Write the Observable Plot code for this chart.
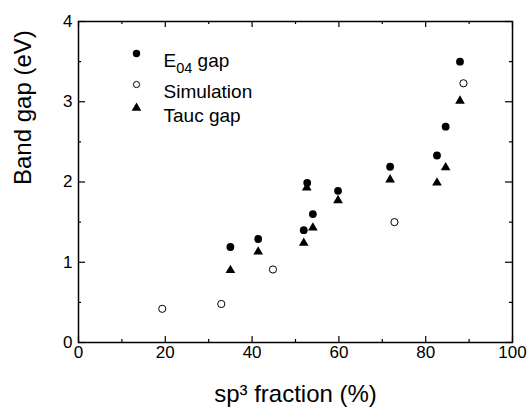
<!DOCTYPE html>
<html><head><meta charset="utf-8">
<script src="https://cdn.jsdelivr.net/npm/d3@7"></script>
<script src="https://cdn.jsdelivr.net/npm/@observablehq/plot@0.6"></script>
<style>
body{margin:0;background:#fff}
svg{font-family:"Liberation Sans",Arial,Helvetica,sans-serif}
</style>
</head><body><div id="chart"></div>
<script>
// Data
const e04X  = [35.0, 41.4, 51.9, 52.7, 54.0, 59.8, 71.8, 82.6, 84.6, 87.9];
const e04Y  = [1.19, 1.29, 1.40, 1.99, 1.60, 1.89, 2.19, 2.33, 2.69, 3.50];
const simX  = [19.3, 32.9, 44.8, 72.8, 88.7];
const simY  = [0.42, 0.48, 0.91, 1.50, 3.23];
const taucX = [35.0, 41.4, 51.9, 52.6, 54.0, 59.8, 71.8, 82.6, 84.6, 87.9];
const taucY = [0.90, 1.13, 1.24, 1.93, 1.43, 1.77, 2.03, 1.99, 2.18, 3.01];

const xTicks = [0, 20, 40, 60, 80, 100];
const xMinor = [10, 30, 50, 70, 90];
const yTicks = [0, 1, 2, 3, 4];
const yMinor = [0.5, 1.5, 2.5, 3.5];

const legendLabels = ["E04 gap", "Simulation", "Tauc gap"];
const xTitle = "sp³ fraction (%)";
const yTitle = "Band gap (eV)";

const e04  = e04X.map((x, i) => ({x, y: e04Y[i]}));
const sim  = simX.map((x, i) => ({x, y: simY[i]}));
const tauc = taucX.map((x, i) => ({x, y: taucY[i]}));

const W = 528, H = 409;
const mL = 78, mR = 16, mT = 21, mB = 67;
const pW = W - mL - mR, pH = H - mT - mB;

const chart = Plot.plot({
  width: W, height: H,
  marginLeft: mL, marginRight: mR, marginTop: mT, marginBottom: mB,
  style: {fontFamily: '"Liberation Sans", Arial, sans-serif', background: "#fff", color: "#000"},
  x: {domain: [0, 100]},
  y: {domain: [0, 4]},
  marks: [
    Plot.axisX({ticks: xTicks, tickFormat: d => String(d), tickSize: 0, tickPadding: 3, fontSize: 17, label: null}),
    Plot.axisY({ticks: yTicks, tickFormat: d => String(d), tickSize: 0, tickPadding: 6, fontSize: 17, label: null}),
    // inward ticks on all four sides
    Plot.tickX(xTicks, {x: d => d, insetTop: pH - 6, stroke: "#000", strokeWidth: 1.2}),
    Plot.tickX(xTicks, {x: d => d, insetBottom: pH - 6, stroke: "#000", strokeWidth: 1.2}),
    Plot.tickX(xMinor, {x: d => d, insetTop: pH - 3, stroke: "#000", strokeWidth: 1.2}),
    Plot.tickX(xMinor, {x: d => d, insetBottom: pH - 3, stroke: "#000", strokeWidth: 1.2}),
    Plot.tickY(yTicks, {y: d => d, insetRight: pW - 7, stroke: "#000", strokeWidth: 1.2}),
    Plot.tickY(yTicks, {y: d => d, insetLeft: pW - 7, stroke: "#000", strokeWidth: 1.2}),
    Plot.tickY(yMinor, {y: d => d, insetRight: pW - 3, stroke: "#000", strokeWidth: 1.2}),
    Plot.tickY(yMinor, {y: d => d, insetLeft: pW - 3, stroke: "#000", strokeWidth: 1.2}),
    Plot.frame({stroke: "#000", strokeWidth: 1.5}),
    // data
    Plot.dot(sim, {x: "x", y: "y", r: 3.6, stroke: "#000", fill: "#fff", strokeWidth: 1}),
    Plot.dot(e04, {x: "x", y: "y", r: 3.9, fill: "#000", stroke: "none"}),
    Plot.dot(tauc, {x: "x", y: "y", symbol: "triangle", r: 3.6, fill: "#000", stroke: "none"}),
    // legend
    Plot.dot([legendLabels[0]], {frameAnchor: "top-left", dx: 58, dy: 32, r: 3.7, fill: "#000", stroke: "none"}),
    Plot.dot([legendLabels[1]], {frameAnchor: "top-left", dx: 58, dy: 63, r: 3.1, fill: "#fff", stroke: "#000", strokeWidth: 1}),
    Plot.dot([legendLabels[2]], {frameAnchor: "top-left", dx: 58, dy: 86.5, symbol: "triangle", r: 3.6, fill: "#000", stroke: "none"}),
    Plot.text([legendLabels[0]], {frameAnchor: "top-left", text: d => d, dx: 85, dy: 32, textAnchor: "start", fontSize: 19, fill: "#000"}),
    Plot.text([legendLabels[1]], {frameAnchor: "top-left", text: d => d, dx: 85, dy: 63, textAnchor: "start", fontSize: 19, fill: "#000"}),
    Plot.text([legendLabels[2]], {frameAnchor: "top-left", text: d => d, dx: 85, dy: 86.5, textAnchor: "start", fontSize: 19, fill: "#000"}),
    // axis titles
    Plot.text([xTitle], {frameAnchor: "bottom", text: d => d, dy: 59, fontSize: 24, fill: "#000"}),
    Plot.text([yTitle], {frameAnchor: "left", text: d => d, dx: -55, dy: 3, rotate: -90, fontSize: 24, fill: "#000"})
  ]
});

// subscript in "E04 gap"
d3.select(chart).selectAll("text").filter(function() { return this.textContent === "E04 gap"; })
  .each(function() {
    const t = d3.select(this);
    t.text("");
    t.append("tspan").text("E");
    t.append("tspan").attr("font-size", 14.5).attr("dy", 6).text("04");
    t.append("tspan").attr("dy", -6).text(" gap");
  });

document.getElementById("chart").appendChild(chart);
</script>
</body></html>
